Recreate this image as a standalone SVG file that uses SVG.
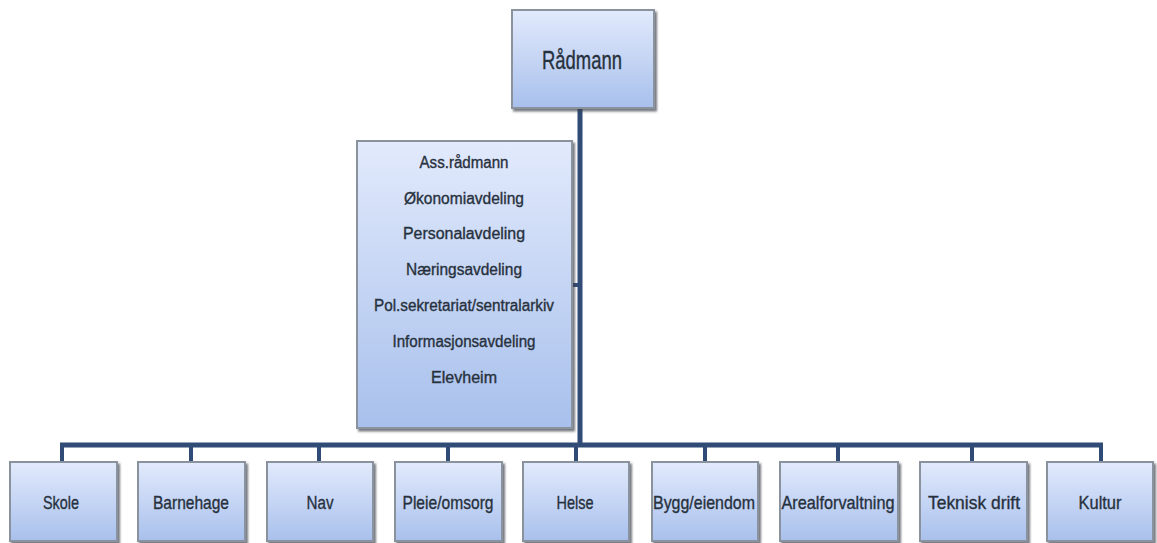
<svg xmlns="http://www.w3.org/2000/svg" width="1157" height="543" viewBox="0 0 1157 543">
<defs>
<linearGradient id="g" x1="0" y1="0" x2="0" y2="1">
<stop offset="0" stop-color="#e2eafc"/>
<stop offset="1" stop-color="#a8c0ec"/>
</linearGradient>
<filter id="sh" x="-10%" y="-10%" width="125%" height="125%">
<feDropShadow dx="2" dy="2.5" stdDeviation="1.2" flood-color="#3a3f48" flood-opacity="0.7"/>
</filter>
</defs>
<style>
.box{fill:url(#g);stroke:#8a929d;stroke-width:2;filter:url(#sh)}
.t{font-family:"Liberation Sans",Arial,sans-serif;fill:#27313d;text-anchor:middle;stroke:#27313d;stroke-width:0.35}
.b{font-size:19px}
.m{font-size:16px}
.ln{stroke:#2f4b76;fill:none;stroke-width:5}
.dr{stroke:#2f4b76;fill:none;stroke-width:4}
</style>
<rect width="1157" height="543" fill="#ffffff"/>
<g id="connectors">
<line class="ln" x1="580" y1="107" x2="580" y2="447"/>
<line class="ln" x1="60" y1="445" x2="1103" y2="445"/>
<line class="dr" x1="572" y1="285" x2="580" y2="285"/>
<line class="dr" x1="62" y1="443" x2="62" y2="463"/>
<line class="dr" x1="191" y1="445" x2="191" y2="463"/>
<line class="dr" x1="319" y1="445" x2="319" y2="463"/>
<line class="dr" x1="448" y1="445" x2="448" y2="463"/>
<line class="dr" x1="576" y1="445" x2="576" y2="463"/>
<line class="dr" x1="705" y1="445" x2="705" y2="463"/>
<line class="dr" x1="838" y1="445" x2="838" y2="463"/>
<line class="dr" x1="972" y1="445" x2="972" y2="463"/>
<line class="dr" x1="1101" y1="443" x2="1101" y2="463"/>
</g>
<g id="radmann">
<rect class="box" x="512" y="10" width="142" height="98"/>
<text class="t" x="582" y="69" font-size="25" textLength="80" lengthAdjust="spacingAndGlyphs">Rådmann</text>
</g>
<g id="stab">
<rect class="box" x="357" y="141" width="215" height="287"/>
<text class="t m" x="464" y="168" textLength="89" lengthAdjust="spacingAndGlyphs">Ass.rådmann</text>
<text class="t m" x="464" y="204" textLength="120" lengthAdjust="spacingAndGlyphs">Økonomiavdeling</text>
<text class="t m" x="464" y="239" textLength="122" lengthAdjust="spacingAndGlyphs">Personalavdeling</text>
<text class="t m" x="464" y="275" textLength="116" lengthAdjust="spacingAndGlyphs">Næringsavdeling</text>
<text class="t m" x="464" y="311" textLength="180" lengthAdjust="spacingAndGlyphs">Pol.sekretariat/sentralarkiv</text>
<text class="t m" x="464" y="347" textLength="143" lengthAdjust="spacingAndGlyphs">Informasjonsavdeling</text>
<text class="t m" x="464" y="383" textLength="66" lengthAdjust="spacingAndGlyphs">Elevheim</text>
</g>
<g id="skole">
<rect class="box" x="10" y="462" width="107" height="79"/>
<text class="t b" x="61" y="509" textLength="36" lengthAdjust="spacingAndGlyphs">Skole</text>
</g>
<g id="barnehage">
<rect class="box" x="138" y="462" width="107" height="79"/>
<text class="t b" x="191" y="509" textLength="76" lengthAdjust="spacingAndGlyphs">Barnehage</text>
</g>
<g id="nav">
<rect class="box" x="267" y="462" width="106" height="79"/>
<text class="t b" x="320" y="509" textLength="27" lengthAdjust="spacingAndGlyphs">Nav</text>
</g>
<g id="pleie">
<rect class="box" x="395" y="462" width="107" height="79"/>
<text class="t b" x="448" y="509" textLength="91" lengthAdjust="spacingAndGlyphs">Pleie/omsorg</text>
</g>
<g id="helse">
<rect class="box" x="523" y="462" width="106" height="79"/>
<text class="t b" x="575" y="509" textLength="37" lengthAdjust="spacingAndGlyphs">Helse</text>
</g>
<g id="bygg">
<rect class="box" x="652" y="462" width="106" height="79"/>
<text class="t b" x="704" y="509" textLength="102" lengthAdjust="spacingAndGlyphs">Bygg/eiendom</text>
</g>
<g id="areal">
<rect class="box" x="780" y="462" width="118" height="79"/>
<text class="t b" x="838" y="509" textLength="113" lengthAdjust="spacingAndGlyphs">Arealforvaltning</text>
</g>
<g id="teknisk">
<rect class="box" x="920" y="462" width="107" height="79"/>
<text class="t b" x="974" y="509" textLength="92" lengthAdjust="spacingAndGlyphs">Teknisk drift</text>
</g>
<g id="kultur">
<rect class="box" x="1047" y="462" width="106" height="79"/>
<text class="t b" x="1100" y="509" textLength="43" lengthAdjust="spacingAndGlyphs">Kultur</text>
</g>
</svg>
